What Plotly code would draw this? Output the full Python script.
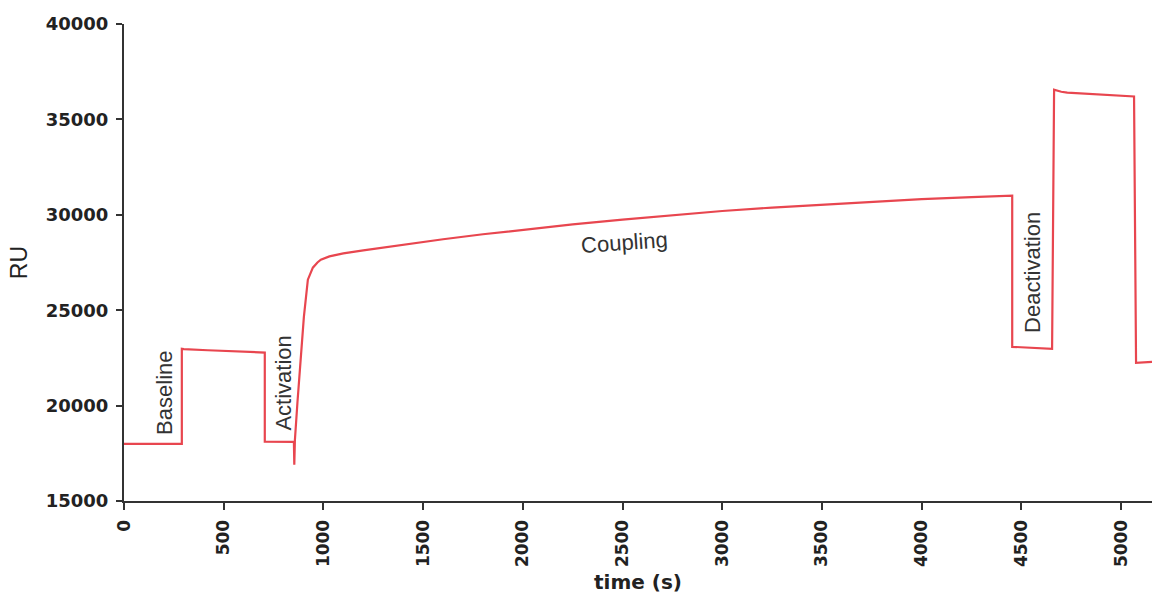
import plotly.graph_objects as go

# Sensorgram of the amine-coupling run: time in seconds, response in RU
time_s = [0, 290, 290, 300, 420, 500, 600, 706, 706, 852, 854, 857, 870, 887,
          902, 922, 947, 970, 987, 1030, 1087, 1100, 1200, 1400, 1600, 1800,
          2000, 2250, 2500, 2750, 3000, 3250, 3500, 3750, 4000, 4250, 4454,
          4454, 4654, 4664, 4700, 4730, 5065, 5075, 5155]
response_ru = [17990, 17990, 22980, 22960, 22900, 22860, 22820, 22780, 18110,
               18100, 16900, 18200, 20200, 22400, 24650, 26600, 27230, 27500,
               27645, 27820, 27950, 27980, 28140, 28440, 28720, 28980, 29220,
               29495, 29745, 29980, 30200, 30380, 30540, 30690, 30820, 30930,
               31010, 23080, 22975, 36560, 36450, 36400, 36200, 22240, 22290]

# Phase labels: text, time, RU, rotation
phase_text = ["Baseline", "Activation", "Coupling", "Deactivation"]
phase_time = [200, 801, 2510, 4559]
phase_ru = [20660, 21190, 28540, 26960]
phase_angle = [-90, -90, -4, -90]

x_ticks = list(range(0, 5001, 500))
y_ticks = list(range(15000, 40001, 5000))

axis_color = "#333333"

fig = go.Figure()
fig.add_trace(go.Scatter(
    x=time_s, y=response_ru, mode="lines",
    line=dict(color="#e8464f", width=2.2),
    showlegend=False, hoverinfo="x+y",
))

for txt, tx, ty, ang in zip(phase_text, phase_time, phase_ru, phase_angle):
    fig.add_annotation(
        x=tx, y=ty, text=txt, showarrow=False, textangle=ang,
        font=dict(family="Liberation Sans, Arial, sans-serif", size=22, color="#333333"),
    )

fig.update_layout(
    width=1152, height=594,
    margin=dict(l=124, r=0, t=24, b=93),
    paper_bgcolor="white", plot_bgcolor="white",
)

fig.update_xaxes(
    range=[0, 5155], tickvals=x_ticks, ticktext=["<b>%d</b>" % v for v in x_ticks],
    tickangle=-90, ticks="outside", ticklen=7, tickwidth=2, tickcolor=axis_color,
    showline=True, linecolor=axis_color, linewidth=2, showgrid=False, zeroline=False,
    tickfont=dict(family="DejaVu Sans, sans-serif", size=17, color="#222222"),
    ticklabelstandoff=3,
    title=dict(text="<b>time (s)</b>", standoff=12,
               font=dict(family="DejaVu Sans, sans-serif", size=20, color="#222222")),
)
fig.update_yaxes(
    range=[15000, 40000], tickvals=y_ticks, ticktext=["<b>%d</b>" % v for v in y_ticks],
    ticks="outside", ticklen=6, tickwidth=2, tickcolor=axis_color,
    showline=True, linecolor=axis_color, linewidth=2, showgrid=False, zeroline=False,
    tickfont=dict(family="DejaVu Sans, sans-serif", size=18, color="#222222"),
    ticklabelstandoff=4,
    title=dict(text="RU", standoff=12,
               font=dict(family="Liberation Sans, Arial, sans-serif", size=23, color="#222222")),
)

fig.write_html("out.html")
